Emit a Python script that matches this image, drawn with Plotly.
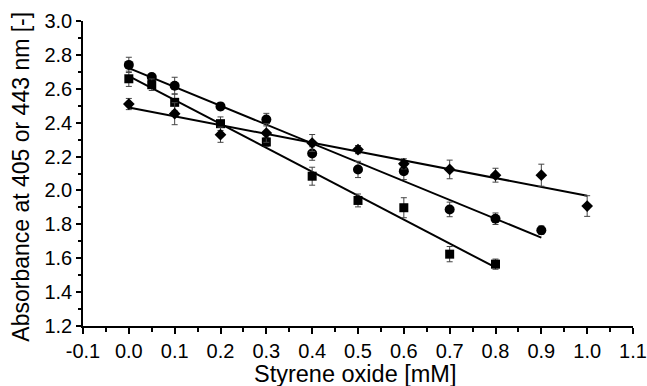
import numpy as np
import plotly.graph_objects as go

# Circles series
circ_x = [0.0, 0.05, 0.1, 0.2, 0.3, 0.4, 0.5, 0.6, 0.7, 0.8, 0.9]
circ_y = [2.741, 2.669, 2.618, 2.496, 2.418, 2.218, 2.124, 2.114, 1.888, 1.833, 1.765]
circ_e = [0.045, 0.02, 0.05, 0.02, 0.037, 0.04, 0.048, 0.05, 0.043, 0.034, 0.025]

# Squares series
sq_x = [0.0, 0.05, 0.1, 0.2, 0.3, 0.4, 0.5, 0.6, 0.7, 0.8]
sq_y = [2.659, 2.624, 2.52, 2.394, 2.286, 2.084, 1.941, 1.898, 1.624, 1.565]
sq_e = [0.045, 0.034, 0.05, 0.04, 0.025, 0.053, 0.038, 0.059, 0.045, 0.03]

# Diamonds series
dia_x = [0.0, 0.1, 0.2, 0.3, 0.4, 0.5, 0.6, 0.7, 0.8, 0.9, 1.0]
dia_y = [2.51, 2.453, 2.329, 2.339, 2.28, 2.241, 2.157, 2.124, 2.09, 2.09, 1.908]
dia_e = [0.033, 0.065, 0.045, 0.055, 0.05, 0.024, 0.03, 0.055, 0.041, 0.065, 0.061]

x_ticks = [-0.1, 0.0, 0.1, 0.2, 0.3, 0.4, 0.5, 0.6, 0.7, 0.8, 0.9, 1.0, 1.1]
y_ticks = [1.2, 1.4, 1.6, 1.8, 2.0, 2.2, 2.4, 2.6, 2.8, 3.0]

x_title = "Styrene oxide [mM]"
y_title = "Absorbance at 405 or 443 nm [-]"

fig = go.Figure()

series = [
    (circ_x, circ_y, circ_e, "circle", 10),
    (sq_x, sq_y, sq_e, "square", 9),
    (dia_x, dia_y, dia_e, "diamond", 9),
]

for xs, ys, es, sym, sz in series:
    # linear regression trend line
    k, b = np.polyfit(xs, ys, 1)
    xl = [min(xs), max(xs)]
    fig.add_trace(go.Scatter(
        x=xl, y=[k * v + b for v in xl], mode="lines",
        line=dict(color="black", width=2), showlegend=False, hoverinfo="skip"))
    fig.add_trace(go.Scatter(
        x=xs, y=ys, mode="markers",
        marker=dict(symbol=sym, size=sz, color="black"),
        error_y=dict(type="data", array=es, visible=True, color="#444444",
                     thickness=1, width=3),
        showlegend=False))

font_family = "Liberation Sans, Arial, sans-serif"

fig.update_layout(
    width=647, height=386,
    margin=dict(l=83, r=14, t=21, b=60),
    paper_bgcolor="white", plot_bgcolor="white",
    font=dict(family=font_family, color="black", size=20),
    xaxis=dict(
        range=[-0.1, 1.1], tickvals=x_ticks,
        ticktext=[f"{v:.1f}" for v in x_ticks],
        showgrid=False, zeroline=False, showline=True, linecolor="black",
        linewidth=1.5, ticks="outside", ticklen=6, tickwidth=1.5, tickcolor="black",
        minor=dict(dtick=0.05, tick0=-0.1, ticks="outside", ticklen=4,
                   tickwidth=1.5, tickcolor="black", showgrid=False),
        tickfont=dict(size=20), automargin=False, ticklabeloverflow="allow",
    ),
    yaxis=dict(
        range=[1.2, 3.0], tickvals=y_ticks,
        ticktext=[f"{v:.1f}" for v in y_ticks],
        showgrid=False, zeroline=False, showline=True, linecolor="black",
        linewidth=1.5, ticks="outside", ticklen=5, tickwidth=1.5, tickcolor="black",
        minor=dict(dtick=0.1, tick0=1.2, ticks="outside", ticklen=3,
                   tickwidth=1.5, tickcolor="black", showgrid=False),
        tickfont=dict(size=20), automargin=False, ticklabeloverflow="allow",
    ),
    annotations=[
        dict(text=x_title, xref="paper", yref="paper", x=0.495, y=-0.158,
             xanchor="center", yanchor="middle", showarrow=False,
             font=dict(size=23.5)),
        dict(text=y_title, xref="paper", yref="paper", x=-0.113, y=0.489,
             xanchor="center", yanchor="middle", showarrow=False, textangle=-90,
             font=dict(size=23)),
    ],
)

fig.write_html("out.html", config={"displayModeBar": False},
               post_script="document.body.style.margin='0';")
